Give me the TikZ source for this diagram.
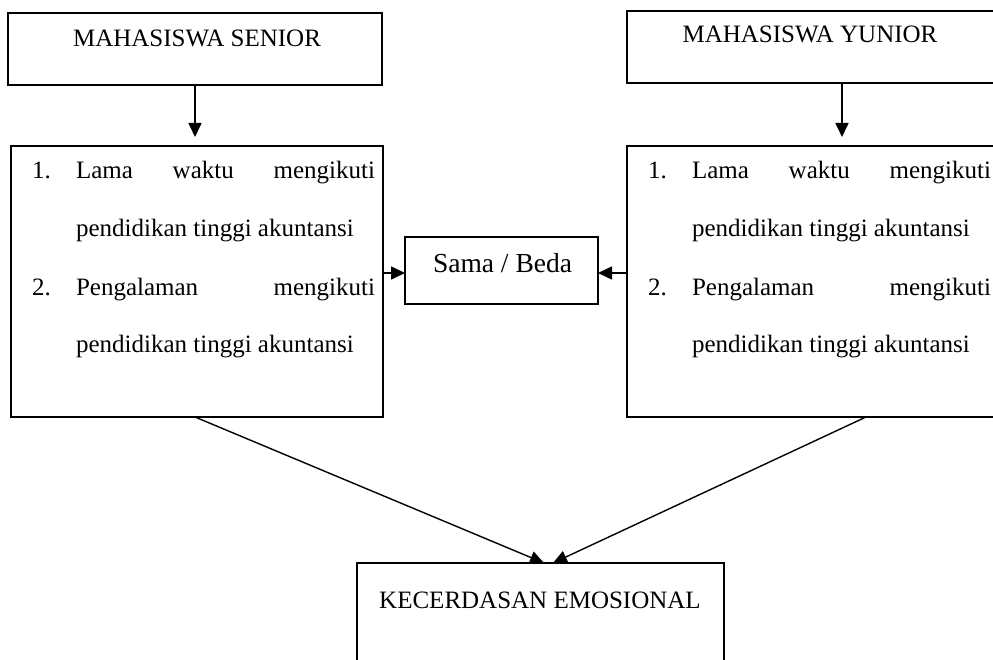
\documentclass[tikz,border=0pt]{standalone}
\usepackage{fontspec}
\setmainfont{Liberation Serif}
\usetikzlibrary{arrows.meta,calc}
\begin{document}
\begin{tikzpicture}[x=1pt,y=-1pt,
  box/.style={draw,line width=2pt,inner sep=0pt,outer sep=0pt},
  txt/.style={inner sep=0pt,outer sep=0pt,anchor=base,font=\fontsize{25}{30}\selectfont},
  ltxt/.style={inner sep=0pt,outer sep=0pt,anchor=base west,font=\fontsize{25}{30}\selectfont},
  arr/.style={line width=1.6pt,-{Triangle[length=14pt,width=13pt]}},
  diag/.style={line width=1.4pt,-{Triangle[length=14pt,width=13pt]}}]
\useasboundingbox (0,0) rectangle (993,660);
\clip (0,0) rectangle (993,660);
\fill[white] (0,0) rectangle (993,660);
% boxes
\node[box,minimum width=374pt,minimum height=72pt] (A) at (195,49) {};
\node[box,minimum width=430pt,minimum height=72pt] (Y) at (842,47) {};
\node[box,minimum width=372pt,minimum height=271pt] (B) at (197,281.5) {};
\node[box,minimum width=372pt,minimum height=271pt] (C) at (813,281.5) {};
\node[box,minimum width=193pt,minimum height=67pt] (S) at (501.5,270.5) {};
\node[box,minimum width=367pt,minimum height=137pt] (K) at (540.5,631.5) {};
% texts
\node[txt] (tA) at (197,47) {MAHASISWA SENIOR};
\node[txt] (tY) at (810,43) {MAHASISWA YUNIOR};
\node[txt,font=\fontsize{27.5}{32}\selectfont] (tS) at (502.5,273) {Sama / Beda};
\node[txt] (tK) at (540,608) {KECERDASAN EMOSIONAL};
% list left
\node[ltxt] (b1n) at (32,179) {1.};
\node[ltxt] (b1t) at (76,179) {\hbox to 299pt{Lama\hfill waktu\hfill mengikuti}};
\node[ltxt] (b2t) at (76,237) {pendidikan tinggi akuntansi};
\node[ltxt] (b3n) at (32,295) {2.};
\node[ltxt] (b3t) at (76,295) {\hbox to 299pt{Pengalaman\hfill mengikuti}};
\node[ltxt] (b4t) at (76,352) {pendidikan tinggi akuntansi};
% list right
\node[ltxt] (c1n) at (648,179) {1.};
\node[ltxt] (c1t) at (692,179) {\hbox to 299pt{Lama\hfill waktu\hfill mengikuti}};
\node[ltxt] (c2t) at (692,237) {pendidikan tinggi akuntansi};
\node[ltxt] (c3n) at (648,295) {2.};
\node[ltxt] (c3t) at (692,295) {\hbox to 299pt{Pengalaman\hfill mengikuti}};
\node[ltxt] (c4t) at (692,352) {pendidikan tinggi akuntansi};
% connectors
\draw[arr,shorten >=9pt] (A.south) -- (A.south |- B.north);
\draw[arr,shorten >=9pt] (Y.south) -- (Y.south |- C.north);
\coordinate (sl) at ($(S.west)+(0,2.5)$);
\coordinate (sr) at ($(S.east)+(0,2.5)$);
\draw[arr] (sl -| B.east) -- (sl);
\draw[arr] (sr -| C.west) -- (sr);
\draw[diag] ($(B.south west)+(184,0)$) -- ($(K.north west)+(187,0)$);
\draw[diag] ($(C.south west)+(239,0)$) -- ($(K.north west)+(196,0)$);
\end{tikzpicture}
\end{document}
